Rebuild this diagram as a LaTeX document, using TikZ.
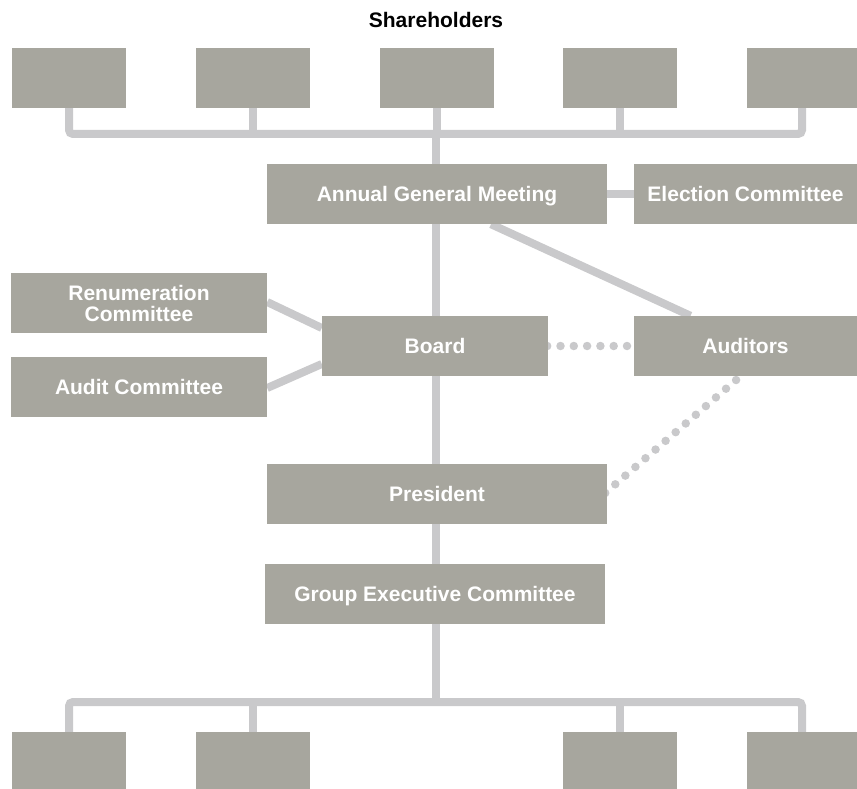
\documentclass[tikz,border=0pt]{standalone}
\usepackage{fontspec}
\setmainfont{Liberation Sans}
\usetikzlibrary{backgrounds,positioning,calc}
\definecolor{BoxGray}{HTML}{A7A69E}
\definecolor{LinkGray}{HTML}{C9C9CB}

\tikzset{
  orgbox/.style={fill=BoxGray,text=white,font=\fontsize{21}{21}\selectfont\bfseries,
    inner sep=0pt,align=center,text height=15pt,text depth=0pt},
  link/.style={draw=LinkGray,line width=8pt},
  dotlink/.style={draw=LinkGray,line width=8.5pt,line cap=round,dash pattern=on 0pt off 13.3pt},
}

\begin{document}
\begin{tikzpicture}[x=1pt,y=-1pt]
  \useasboundingbox (0,0) rectangle (857,789);
  \node[font=\fontsize{21}{21}\selectfont\bfseries] (title) at (436,20) {Shareholders};
  % shareholder boxes
  \foreach \i/\cx/\w in {1/69/114,2/253/114,3/437/114,4/620/114,5/802/110}
    \node[orgbox,minimum width=\w,minimum height=60] (sh\i) at (\cx,78) {};
  \node[orgbox,minimum width=340,minimum height=60] (agm) at (437,194) {Annual General Meeting};
  \node[orgbox,minimum width=223,minimum height=60] (elect) at (745.5,194) {Election Committee};
  \node[orgbox,minimum width=256,minimum height=60,text height={},text depth={}] (remun) at (139,303) {Renumeration\\Committee};
  \node[orgbox,minimum width=256,minimum height=60] (auditc) at (139,387) {Audit Committee};
  \node[orgbox,minimum width=226,minimum height=60] (board) at (435,346) {Board};
  \node[orgbox,minimum width=223,minimum height=60] (auditors) at (745.5,346) {Auditors};
  \node[orgbox,minimum width=340,minimum height=60] (pres) at (437,494) {President};
  \node[orgbox,minimum width=340,minimum height=60] (gec) at (435,594) {Group Executive Committee};
  % units below
  \foreach \i/\cx/\w in {1/69/114,2/253/114,3/620/114,4/802/110}
    \node[orgbox,minimum width=\w,minimum height=57] (unit\i) at (\cx,760.5) {};

  \coordinate (topbus) at (436,134);
  \coordinate (botbus) at (436,702);

  \begin{scope}[on background layer]
    \draw[link,rounded corners=4pt] (sh1.center) |- (topbus) -| (sh5.center);
    \draw[link] (sh2.center) -- (sh2.center |- topbus);
    \draw[link] (sh4.center) -- (sh4.center |- topbus);
    \draw[link] (sh3.center |- topbus) -- (sh3.center);
    \draw[link] (topbus) -- (agm.center -| topbus) -- (botbus);
    \draw[link] (agm) -- (elect);
    \draw[link] ([xshift=54pt]agm.south) -- ([xshift=-55pt]auditors.north);
    \draw[link] ([yshift=1pt]remun.east) -- ([yshift=18pt]board.west);
    \draw[link] ([yshift=-1pt]auditc.east) -- ([yshift=-18pt]board.west);
    \draw[link,rounded corners=4pt] (unit1.center) |- (botbus) -| (unit4.center);
    \draw[link] (unit2.center) -- (unit2.center |- botbus);
    \draw[link] (unit3.center) -- (unit3.center |- botbus);
    % dotted advisory lines
    \draw[dotlink] ([xshift=-1pt]board.east) -- (auditors.west);
    \draw[dotlink] ([xshift=-2pt,yshift=1pt]pres.east) -- ([xshift=-5pt]auditors.south);
  \end{scope}
\end{tikzpicture}
\end{document}
